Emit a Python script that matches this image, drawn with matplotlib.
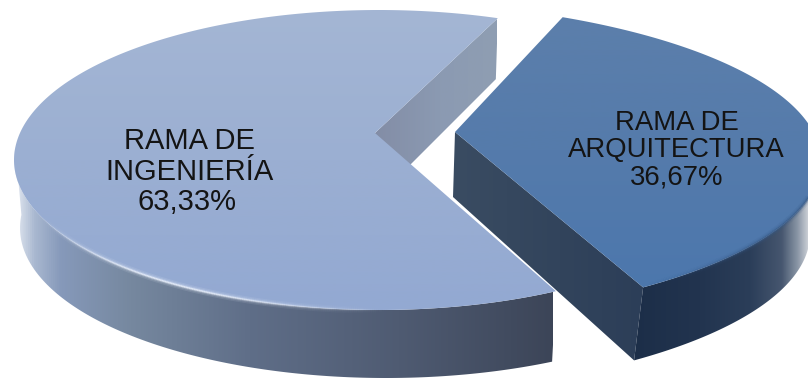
import numpy as np
import matplotlib
matplotlib.use("Agg")
import matplotlib.pyplot as plt
from matplotlib.collections import LineCollection
from matplotlib.colors import LinearSegmentedColormap
from matplotlib.patches import Polygon

# Pie data
categories = [["RAMA DE", "INGENIERÍA"], ["RAMA DE", "ARQUITECTURA"]]
shares = [63.33, 36.67]

W, H = 808, 379
fig = plt.figure(figsize=(W / 100, H / 100), dpi=100, facecolor="white")
ax = fig.add_axes([0, 0, 1, 1])
ax.set_xlim(0, W)
ax.set_ylim(H, 0)
ax.axis("off")


def arc(c, r, t0, t1, n=240):
    """Points on an ellipse between two angles, measured counter-clockwise on screen."""
    t = np.radians(np.linspace(t0, t1, n))
    return np.column_stack([c[0] + r[0] * np.cos(t), c[1] - r[1] * np.sin(t)])


def shaded(points, stops, axis="x", z=1):
    """Fill a polygon with a gradient running along one screen axis."""
    patch = Polygon(points, closed=True, fc="none", ec="none", transform=ax.transData)
    ax.add_patch(patch)
    lo, hi = stops[0][0], stops[-1][0]
    cmap = LinearSegmentedColormap.from_list(
        "g", [((p - lo) / (hi - lo), col) for p, col in stops]
    )
    ramp = np.linspace(0, 1, 512)
    if axis == "x":
        img = ramp[None, :]
        extent = (lo, hi, H + 50, -50)
    else:
        img = ramp[:, None]
        extent = (-50, W + 50, hi, lo)
    im = ax.imshow(img, cmap=cmap, extent=extent, aspect="auto", zorder=z,
                   interpolation="bilinear", vmin=0, vmax=1)
    im.set_clip_path(patch)
    ax.set_xlim(0, W)
    ax.set_ylim(H, 0)


def glow(points, color, peak, widths=(5.0, 3.0, 1.4), z=5):
    """Soft line along a rim with an opacity that swells toward the middle."""
    segs = np.stack([points[:-1], points[1:]], axis=1)
    u = np.linspace(0, 1, len(segs))
    fade = np.sin(np.pi * u) ** 1.3
    for w, a in zip(widths, (0.12, 0.22, 0.7)):
        rgba = np.tile(matplotlib.colors.to_rgba(color), (len(segs), 1))
        rgba[:, 3] = fade * a * peak
        ax.add_collection(LineCollection(segs, colors=rgba, linewidths=w, zorder=z,
                                         capstyle="butt"))


sweep_big = shares[0] * 3.6
sweep_small = shares[1] * 3.6

# Large slice: geometry of the top face and the base
start_big = 71.0
end_big = start_big + sweep_big
c_top = (379, 160)
r_top = (365, 150)
c_base = (386, 228)
r_base = (366, 150)
tip_big = np.array([375.0, 133.0])

rim_big = arc(c_top, r_top, start_big, end_big)
corner_start = rim_big[0]

# Inner wall behind the large slice
wall = [tip_big, corner_start, corner_start + (-2, 61), tip_big + (2, 65)]
shaded(wall, [(375, "#838da6"), (440, "#8b9ab2"), (497, "#8f9eb2")], "x", z=1)

# Outer wall of the large slice
side_top = arc(c_top, r_top, 175, end_big)
side_base = arc(c_base, r_base, 175, end_big - 2)
shaded(np.vstack([side_top, side_base[::-1]]),
       [(13, "#f2f4f8"), (20, "#d3dbe8"), (34, "#a9b8d0"), (60, "#8699ba"),
        (130, "#76889f"), (250, "#5f6e88"), (400, "#4f5b72"), (553, "#3c4558")],
       "x", z=2)

# Top face of the large slice
shaded(np.vstack([tip_big, rim_big]),
       [(10, "#a4b6d4"), (160, "#9bafd2"), (310, "#93a9d2")], "y", z=3)

# Light catching the front rim
glow(arc(c_top, r_top, 200, 272), "#eef4ff", 1.0)

# Small slice: geometry of the top face and the base
stretch = 0.88
start_small = 64.0
end_small = start_small - sweep_small * stretch
c2_top = (361, 161)
r2_top = (460, 160)
c2_base = (355, 234)
r2_base = (455, 160)
tip_small = np.array([455.0, 132.0])

rim_small = arc(c2_top, r2_top, start_small, end_small)
corner_end = rim_small[-1]
base_small = arc(c2_base, r2_base, end_small, 0)

# Inner wall of the small slice
shaded([tip_small, tip_small + (-2, 65), base_small[0], corner_end],
       [(453, "#3a4c62"), (560, "#32445c"), (645, "#2c3e58")], "x", z=3)

# Outer wall of the small slice
shaded(np.vstack([arc(c2_top, r2_top, end_small, 0), base_small[::-1]]),
       [(632, "#1c2e48"), (700, "#22344f"), (750, "#2b3e59"), (782, "#46566f"),
        (798, "#8a96a6"), (810, "#d5d8dd")], "x", z=3)

# Top face of the small slice
shaded(np.vstack([tip_small, rim_small]),
       [(16, "#5c7fab"), (150, "#557bab"), (290, "#4c77ad")], "y", z=4)
glow(arc(c2_top, r2_top, end_small, 10), "#3a5c88", 1.0, z=5)

# Labels
def pct(v):
    return f"{v:.2f}".replace(".", ",") + "%"


text_style = dict(ha="center", va="center", color="#141414",
                  family=["Liberation Sans", "DejaVu Sans"], zorder=8)
for (x, y), s in zip([(189, 141), (190, 172), (187, 202)],
                     categories[0] + [pct(shares[0])]):
    ax.text(x, y, s, fontsize=21, **text_style)
for (x, y), s in zip([(677, 123), (676, 150), (677, 177)],
                     categories[1] + [pct(shares[1])]):
    ax.text(x, y, s, fontsize=19.8, **text_style)

fig.savefig("out.png", dpi=100, facecolor="white")
